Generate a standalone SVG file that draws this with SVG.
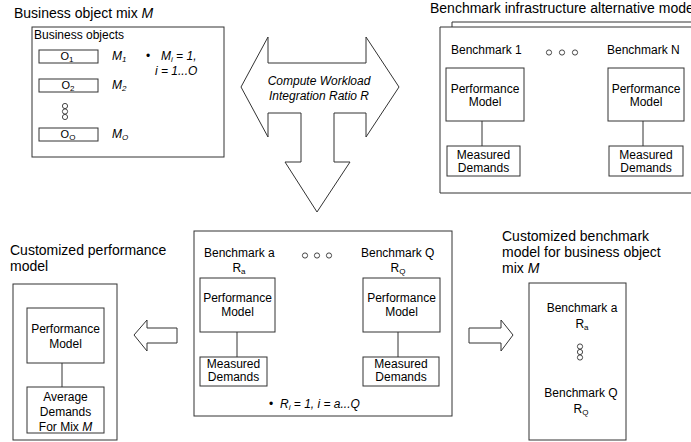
<svg xmlns="http://www.w3.org/2000/svg" width="691" height="442" viewBox="0 0 691 442">
  <style>
    text { font-family: "Liberation Sans", Arial, sans-serif; fill: #000; }
    .title { font-size: 14px; }
    .lbl { font-size: 12px; }
    .obj { font-size: 11px; }
    .mid { text-anchor: middle; }
    .it { font-style: italic; }
    .box { fill: #fff; stroke: #333; stroke-width: 1; }
    .frame { fill: none; stroke: #333; stroke-width: 1; }
    .link { stroke: #333; stroke-width: 1; fill: none; }
    .dot { fill: none; stroke: #333; stroke-width: 0.9; }
    .sub { font-size: 8px; }
  </style>

  <!-- Business object mix M -->
  <g id="business-object-mix">
    <text class="title" x="14" y="18">Business object mix <tspan class="it">M</tspan></text>
    <rect class="box" x="32" y="27" width="192" height="130"/>
    <text class="lbl" x="34" y="39">Business objects</text>
    <g id="object-o1">
      <rect class="box" x="39" y="50" width="59" height="13"/>
      <text class="obj mid" x="67" y="60">O<tspan class="sub" dy="1.5">1</tspan></text>
      <text class="lbl it" x="112" y="60">M<tspan class="sub" dy="2">1</tspan></text>
    </g>
    <g id="object-o2">
      <rect class="box" x="39" y="79" width="59" height="13"/>
      <text class="obj mid" x="68" y="89">O<tspan class="sub" dy="1.5">2</tspan></text>
      <text class="lbl it" x="112" y="89">M<tspan class="sub" dy="2">2</tspan></text>
    </g>
    <circle class="dot" cx="65" cy="106" r="2.6"/>
    <circle class="dot" cx="65" cy="111.5" r="2.6"/>
    <circle class="dot" cx="65" cy="117" r="2.6"/>
    <g id="object-oo">
      <rect class="box" x="39" y="128" width="59" height="13"/>
      <text class="obj mid" x="68" y="138">O<tspan class="sub" dy="1.5">O</tspan></text>
      <text class="lbl it" x="112" y="138">M<tspan class="sub" dy="2">O</tspan></text>
    </g>
    <text class="lbl" x="146" y="60">•</text>
    <text class="lbl it" x="161" y="60">M<tspan class="sub" dy="2">i</tspan><tspan dy="-2"> = 1,</tspan></text>
    <text class="lbl it" x="155" y="75">i = 1...O</text>
  </g>

  <!-- Compute workload integration ratio (three-way block arrow) -->
  <g id="integration-ratio">
    <polygon class="box" points="241,87 268,37 268,63 366,63 366,37 399,87 366,137 366,113 334,113 334,162 350,162 317,212 285,162 301,162 301,113 268,113 268,137"/>
    <text class="lbl it mid" x="319" y="85">Compute Workload</text>
    <text class="lbl it mid" x="319" y="100">Integration Ratio R</text>
  </g>

  <!-- Benchmark infrastructure alternative models (stacked frames) -->
  <g id="benchmark-infrastructure">
    <text class="title" x="430" y="13">Benchmark infrastructure alternative mode</text>
    <path class="frame" d="M452,27 V22 H691"/>
    <path class="box" d="M691,27 H440 V193 H691"/>
    <text class="lbl" x="451" y="54">Benchmark 1</text>
    <circle class="dot" cx="549" cy="52.5" r="2.6"/>
    <circle class="dot" cx="562" cy="52.5" r="2.6"/>
    <circle class="dot" cx="575" cy="52.5" r="2.6"/>
    <text class="lbl" x="607" y="54">Benchmark N</text>
    <g id="bench1-model">
      <rect class="box" x="446" y="68" width="78" height="53"/>
      <text class="lbl mid" x="485" y="93">Performance</text>
      <text class="lbl mid" x="485" y="106">Model</text>
    </g>
    <g id="bench1-demands">
      <rect class="box" x="447" y="146" width="73" height="30"/>
      <text class="lbl mid" x="483.5" y="159">Measured</text>
      <text class="lbl mid" x="483.5" y="172">Demands</text>
    </g>
    <g id="benchN-model">
      <rect class="box" x="608" y="68" width="76" height="53"/>
      <text class="lbl mid" x="646" y="93">Performance</text>
      <text class="lbl mid" x="646" y="106">Model</text>
    </g>
    <g id="benchN-demands">
      <rect class="box" x="609" y="146" width="74" height="30"/>
      <text class="lbl mid" x="646" y="159">Measured</text>
      <text class="lbl mid" x="646" y="172">Demands</text>
    </g>
  </g>

  <!-- Selected benchmarks with ratios -->
  <g id="selected-benchmarks">
    <rect class="box" x="194" y="231" width="258" height="185"/>
    <text class="lbl" x="204" y="257">Benchmark a</text>
    <text class="lbl mid" x="239" y="272">R<tspan class="sub" dy="2">a</tspan></text>
    <circle class="dot" cx="305" cy="255.5" r="2.6"/>
    <circle class="dot" cx="317" cy="255.5" r="2.6"/>
    <circle class="dot" cx="329" cy="255.5" r="2.6"/>
    <text class="lbl" x="361" y="257">Benchmark Q</text>
    <text class="lbl mid" x="398" y="272">R<tspan class="sub" dy="2">Q</tspan></text>
    <g id="bencha-model">
      <rect class="box" x="200" y="278" width="75" height="54"/>
      <text class="lbl mid" x="237.5" y="302">Performance</text>
      <text class="lbl mid" x="237.5" y="316">Model</text>
    </g>
    <g id="bencha-demands">
      <rect class="box" x="200" y="357" width="67" height="29"/>
      <text class="lbl mid" x="233.5" y="368">Measured</text>
      <text class="lbl mid" x="233.5" y="381">Demands</text>
    </g>
    <g id="benchQ-model">
      <rect class="box" x="363" y="278" width="77" height="54"/>
      <text class="lbl mid" x="401.5" y="302">Performance</text>
      <text class="lbl mid" x="401.5" y="316">Model</text>
    </g>
    <g id="benchQ-demands">
      <rect class="box" x="363" y="357" width="76" height="29"/>
      <text class="lbl mid" x="401" y="368">Measured</text>
      <text class="lbl mid" x="401" y="381">Demands</text>
    </g>
    <text class="lbl" x="269" y="408">•</text>
    <text class="lbl it" x="280" y="408">R<tspan class="sub" dy="2">i</tspan><tspan dy="-2"> = 1, i = a...Q</tspan></text>
  </g>

  <!-- Customized performance model -->
  <g id="customized-performance-model">
    <text class="title" x="10" y="255">Customized performance</text>
    <text class="title" x="10" y="271">model</text>
    <rect class="box" x="13" y="284" width="104" height="156"/>
    <g id="custom-model">
      <rect class="box" x="27" y="308" width="77" height="55"/>
      <text class="lbl mid" x="65.5" y="333">Performance</text>
      <text class="lbl mid" x="65.5" y="348">Model</text>
    </g>
    <g id="custom-demands">
      <rect class="box" x="27" y="387" width="77" height="46"/>
      <text class="lbl mid" x="65.5" y="401">Average</text>
      <text class="lbl mid" x="65.5" y="416">Demands</text>
      <text class="lbl mid" x="65.5" y="431">For Mix <tspan class="it">M</tspan></text>
    </g>
  </g>

  <!-- Customized benchmark model for business object mix M -->
  <g id="customized-benchmark-model">
    <text class="title" x="502" y="241">Customized benchmark</text>
    <text class="title" x="502" y="257">model for business object</text>
    <text class="title" x="502" y="273">mix <tspan class="it">M</tspan></text>
    <rect class="box" x="529" y="283" width="97" height="157"/>
    <text class="lbl mid" x="582" y="312">Benchmark a</text>
    <text class="lbl mid" x="582" y="328">R<tspan class="sub" dy="2">a</tspan></text>
    <circle class="dot" cx="580" cy="346.5" r="2.6"/>
    <circle class="dot" cx="580" cy="352" r="2.6"/>
    <circle class="dot" cx="580" cy="357.5" r="2.6"/>
    <text class="lbl mid" x="581" y="397">Benchmark Q</text>
    <text class="lbl mid" x="581" y="413">R<tspan class="sub" dy="2">Q</tspan></text>
  </g>

  <!-- Connectors -->
  <g id="connectors">
    <line class="link" x1="482" y1="121" x2="482" y2="146"/>
    <line class="link" x1="643" y1="121" x2="643" y2="146"/>
    <line class="link" x1="237" y1="332" x2="237" y2="357"/>
    <line class="link" x1="398" y1="332" x2="398" y2="357"/>
    <line class="link" x1="62" y1="363" x2="62" y2="387"/>
    <polygon class="box" points="134,335 147,320 147,328 177,328 177,343 147,343 147,351"/>
    <polygon class="box" points="469,328 501,328 501,320 513,335 501,351 501,343 469,343"/>
  </g>
</svg>
